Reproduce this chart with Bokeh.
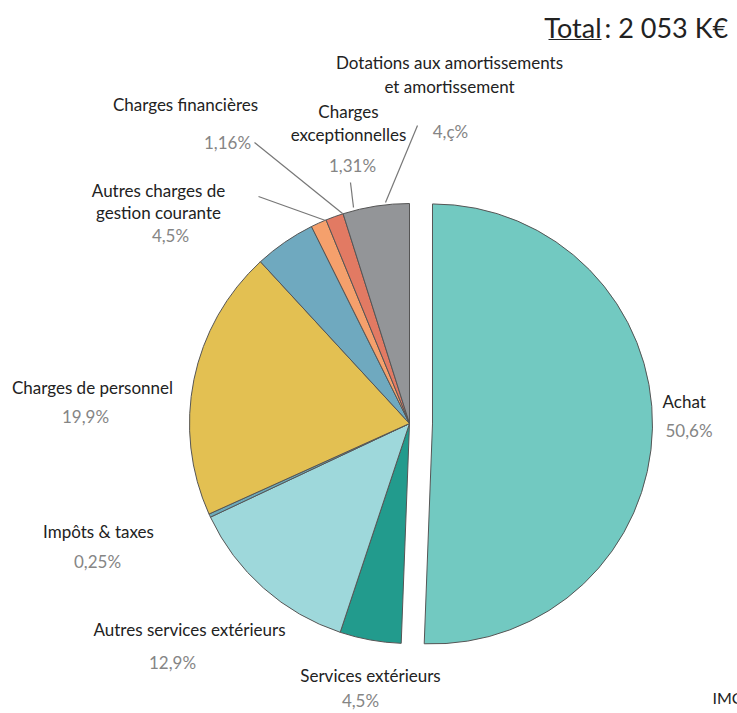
import math
from bokeh.plotting import figure
from bokeh.models import Range1d, ColumnDataSource
from bokeh.core.properties import value
from bokeh.embed import file_html
from bokeh.resources import INLINE

# ---- data ----
categories = ["Achat", "Services extérieurs", "Autres services extérieurs", "Impôts & taxes",
              "Charges de personnel", "Autres charges de gestion courante", "Charges financières",
              "Charges exceptionnelles", "Dotations aux amortissements et amortissement"]
values = [50.6, 4.5, 12.9, 0.25, 19.9, 4.5, 1.16, 1.31, 4.88]
pct_labels = ["50,6%", "4,5%", "12,9%", "0,25%", "19,9%", "4,5%", "1,16%", "1,31%", "4,ç%"]
colors = ["#72C9C1", "#229B8D", "#9ED8DB", "#6CAAB9", "#E3C052", "#6FA9BF", "#F5A06C", "#E27A63", "#939598"]
total_label = "2 053 K€"

FONT = "Lato"
W, H = 737, 713  # data units == screen pixels; data y = H - screen y

def sy(y):
    return H - y

# ---- figure ----
p = figure(width=W, height=H, x_range=Range1d(0, W), y_range=Range1d(0, H),
           output_backend="svg", toolbar_location=None, min_border=0,
           background_fill_color="white", border_fill_color="white")
p.axis.visible = False
p.grid.visible = False
p.outline_line_color = None

cx, cy, r = 409, sy(423), 220
explode = 23
tot = sum(values)
cum = 0.0
xs, ys, sa, ea = [], [], [], []
for v in values:
    a0 = cum / tot
    a1 = (cum + v) / tot
    cum += v
    sa.append(math.pi / 2 - 2 * math.pi * a0)
    ea.append(math.pi / 2 - 2 * math.pi * a1)
    xs.append(cx)
    ys.append(cy)
# explode first slice (Achat)
mid = (sa[0] + ea[0]) / 2
xs[0] = cx + explode * math.cos(mid)
ys[0] = cy + explode * math.sin(mid)

src = ColumnDataSource(dict(x=xs, y=ys, start=sa, end=ea, color=colors, cat=categories))
p.wedge(x="x", y="y", radius=r, start_angle="start", end_angle="end", direction="clock",
        fill_color="color", line_color="#555555", line_width=1, source=src)

# ---- labels ----
name_lines = [
    (["Achat"], 662, [401], "left"),
    (["Services extérieurs"], 370, [675], "center"),
    (["Autres services extérieurs"], 189, [629], "center"),
    (["Impôts & taxes"], 98, [531], "center"),
    (["Charges de personnel"], 92, [387], "center"),
    (["Autres charges de", "gestion courante"], 158, [190, 212], "center"),
    (["Charges financières"], 185, [104], "center"),
    (["Charges", "exceptionnelles"], 348, [111, 134], "center"),
    (["Dotations aux amortissements", "et amortissement"], 449, [62, 86], "center"),
]
pct_pos = [(665, 430, "left"), (360, 700, "center"), (172, 662, "center"), (97, 561, "center"),
           (85, 416, "center"), (170, 235, "center"), (227, 142, "center"), (352, 165, "center"),
           (450, 131, "center")]

for (lines, x, yl, al) in name_lines:
    for t, yy in zip(lines, yl):
        p.text(x=[x], y=[sy(yy)], text=[t], text_align=al, text_baseline="middle",
               text_font=value(FONT), text_font_size="17px", text_color="#222222")
for lab, (x, yy, al) in zip(pct_labels, pct_pos):
    p.text(x=[x], y=[sy(yy)], text=[lab], text_align=al, text_baseline="middle",
           text_font=value(FONT), text_font_size="17px", text_color="#858585")

# leader lines
leaders = [((385, 202), (417, 125)), ((353, 207), (350, 182)), ((342, 213), (254, 142)),
           ((325, 220), (258, 196))]
for (a, b) in leaders:
    p.line(x=[a[0], b[0]], y=[sy(a[1]), sy(b[1])], line_color="#777777", line_width=1.2)

# total
p.text(x=[601], y=[sy(27)], text=["Total"], text_align="right", text_baseline="middle",
       text_font=value(FONT), text_font_size="27px", text_color="#222222")
p.text(x=[604], y=[sy(27)], text=[": " + total_label], text_align="left", text_baseline="middle",
       text_font=value(FONT), text_font_size="27px", text_color="#222222")
p.line(x=[548, 601], y=[sy(39), sy(39)], line_color="#222222", line_width=1.2)

p.text(x=[712], y=[sy(697)], text=["IMC"], text_align="left", text_baseline="middle",
       text_font=value(FONT), text_font_size="16px", text_color="#222222")

open("out.html", "w").write(file_html(p, INLINE))
